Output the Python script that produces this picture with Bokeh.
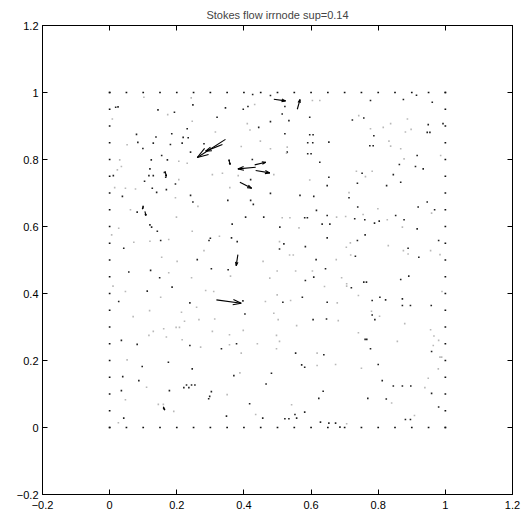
import numpy as np
from bokeh.plotting import figure
from bokeh.models import Range1d, LinearAxis, FixedTicker
from bokeh.embed import file_html
from bokeh.resources import INLINE

title_text = "Stokes flow irrnode sup=0.14"

tick_values = [-0.2, 0.0, 0.2, 0.4, 0.6, 0.8, 1.0, 1.2]
tick_labels = ["\u22120.2", "0", "0.2", "0.4", "0.6", "0.8", "1", "1.2"]

# boundary nodes (regular spacing along the square's edges)
edge_pos = [0.0, 0.05, 0.1, 0.15, 0.2, 0.25, 0.3, 0.35, 0.4, 0.45, 0.5,
            0.55, 0.6, 0.65, 0.7, 0.75, 0.8, 0.85, 0.9, 0.95, 1.0]

# interior nodes drawn dark (tiny arrows)
dark_pts = [
    (0.426,0.994),(0.479,0.991),(0.018,0.956),(0.025,0.957),(0.144,0.948),(0.193,0.941),(0.248,0.963),
    (0.345,0.954),(0.412,0.958),(0.398,0.950),(0.522,0.958),(0.514,0.936),(0.320,0.926),(0.479,0.913),
    (0.444,0.896),(0.231,0.892),(0.080,0.875),(0.138,0.867),(0.185,0.877),(0.219,0.866),(0.234,0.865),
    (0.522,0.877),(0.084,0.851),(0.130,0.849),(0.181,0.845),(0.216,0.849),(0.099,0.833),(0.281,0.847),
    (0.241,0.822),(0.529,0.822),(0.356,0.797),(0.425,0.800),(0.124,0.799),(0.155,0.812),(0.172,0.799),
    (0.120,0.772),(0.163,0.761),(0.167,0.747),(0.117,0.752),(0.130,0.752),(0.011,0.752),(0.420,0.740),
    (0.104,0.735),(0.196,0.727),(0.127,0.714),(0.140,0.702),(0.169,0.710),(0.479,0.699),(0.241,0.693),
    (0.038,0.690),(0.352,0.678),(0.420,0.678),(0.248,0.673),(0.428,0.666),(0.100,0.658),(0.107,0.636),
    (0.082,0.643),(0.405,0.628),(0.459,0.628),(0.365,0.607),(0.120,0.605),(0.125,0.598),(0.507,0.598),
    (0.777,0.976),(0.875,0.979),(0.914,0.992),(0.961,0.971),(0.534,0.916),(0.596,0.926),(0.723,0.918),
    (0.757,0.924),(0.949,0.904),(0.993,0.907),(0.596,0.874),(0.606,0.874),(0.946,0.881),(0.954,0.881),
    (0.787,0.871),(0.590,0.850),(0.605,0.850),(0.653,0.852),(0.775,0.841),(0.785,0.841),(0.590,0.817),
    (0.600,0.817),(0.916,0.812),(0.626,0.792),(0.863,0.785),(0.911,0.779),(0.934,0.772),(0.752,0.759),
    (0.653,0.747),(0.845,0.755),(0.867,0.732),(0.648,0.722),(0.738,0.729),(0.825,0.722),(0.567,0.693),
    (0.608,0.690),(0.713,0.686),(0.946,0.673),(0.616,0.648),(0.739,0.658),(0.919,0.658),(0.968,0.650),
    (0.648,0.633),(0.852,0.633),(0.581,0.626),(0.589,0.626),(0.730,0.623),(0.760,0.620),(0.789,0.610),
    (0.803,0.616),(0.877,0.620),(0.633,0.607),(0.656,0.607),(0.916,0.593),
    (0.142,0.586),(0.300,0.565),(0.296,0.558),(0.363,0.566),(0.380,0.555),(0.152,0.558),(0.042,0.535),
    (0.506,0.533),(0.261,0.501),(0.122,0.469),(0.303,0.474),(0.353,0.471),(0.057,0.464),(0.149,0.447),
    (0.186,0.419),(0.112,0.407),(0.397,0.378),(0.027,0.376),(0.239,0.372),(0.403,0.339),(0.035,0.260),
    (0.082,0.248),(0.239,0.245),(0.333,0.235),(0.378,0.250),(0.175,0.195),(0.097,0.182),(0.246,0.175),
    (0.482,0.162),(0.039,0.152),(0.370,0.155),(0.087,0.140),(0.466,0.130),(0.229,0.127),(0.244,0.127),
    (0.254,0.127),(0.221,0.119),(0.236,0.119),(0.035,0.110),(0.178,0.110),(0.303,0.107),(0.298,0.093),
    (0.295,0.086),(0.417,0.071),(0.161,0.057),(0.348,0.034),(0.456,0.028),(0.042,0.028),
    (0.761,0.575),(0.648,0.566),(0.519,0.548),(0.738,0.558),(0.980,0.558),(0.583,0.540),(0.889,0.535),
    (0.732,0.511),(0.921,0.508),(0.615,0.501),(0.643,0.474),(0.608,0.449),(0.891,0.452),(0.867,0.442),
    (0.583,0.439),(0.757,0.434),(0.765,0.434),(0.720,0.417),(0.574,0.389),(0.805,0.389),(0.822,0.381),
    (0.872,0.384),(0.516,0.374),(0.648,0.374),(0.782,0.379),(0.872,0.364),(0.896,0.364),(0.958,0.364),
    (0.782,0.336),(0.790,0.322),(0.606,0.322),(0.646,0.324),(0.761,0.263),(0.766,0.263),(0.777,0.235),
    (0.959,0.227),(0.554,0.222),(0.638,0.217),(0.572,0.187),(0.581,0.180),(0.800,0.188),(0.812,0.140),
    (0.845,0.124),(0.872,0.124),(0.897,0.124),(0.959,0.102),(0.636,0.108),(0.623,0.087),(0.769,0.087),
    (0.824,0.085),(0.980,0.061),(0.581,0.046),(0.552,0.039),(0.557,0.028),(0.522,0.026),(0.534,0.026),
    (0.881,0.024),(0.896,0.024),(0.628,0.016),(0.653,0.013),(0.673,0.013),(0.686,0.001),
]

# interior nodes drawn faint
grey_pts = [
    (0.102,0.986),(0.243,0.984),(0.008,0.921),(0.173,0.934),(0.432,0.964),(0.246,0.914),(0.410,0.907),
    (0.315,0.882),(0.418,0.888),(0.052,0.844),(0.449,0.855),(0.479,0.832),(0.392,0.839),(0.206,0.795),
    (0.231,0.789),(0.030,0.799),(0.035,0.779),(0.023,0.769),(0.306,0.755),(0.336,0.759),(0.383,0.752),
    (0.489,0.755),(0.206,0.740),(0.015,0.716),(0.047,0.714),(0.077,0.712),(0.358,0.716),(0.196,0.686),
    (0.263,0.660),(0.062,0.650),(0.199,0.628),(0.514,0.626),(0.027,0.595),
    (0.604,0.976),(0.626,0.976),(0.742,0.931),(0.887,0.921),(0.837,0.907),(0.777,0.892),(0.815,0.896),
    (0.881,0.882),(0.898,0.890),(0.529,0.837),(0.832,0.855),(0.837,0.840),(0.527,0.819),(0.867,0.832),
    (0.986,0.812),(0.877,0.802),(0.735,0.765),(0.782,0.765),(0.762,0.749),(0.596,0.739),(0.713,0.701),
    (0.799,0.653),(0.959,0.640),(0.755,0.636),(0.537,0.626),(0.676,0.628),(0.703,0.630),(0.827,0.620),
    (0.564,0.596),(0.872,0.598),
    (0.246,0.586),(0.006,0.575),(0.327,0.571),(0.506,0.555),(0.072,0.553),(0.120,0.556),(0.176,0.561),
    (0.281,0.528),(0.155,0.508),(0.201,0.496),(0.457,0.496),(0.176,0.462),(0.499,0.467),(0.244,0.447),
    (0.360,0.452),(0.477,0.446),(0.010,0.422),(0.286,0.409),(0.310,0.406),(0.047,0.406),(0.499,0.396),
    (0.152,0.389),(0.464,0.376),(0.259,0.359),(0.119,0.349),(0.214,0.344),(0.489,0.341),(0.070,0.331),
    (0.223,0.317),(0.266,0.322),(0.313,0.324),(0.502,0.322),(0.198,0.299),(0.208,0.299),(0.161,0.295),
    (0.130,0.287),(0.306,0.287),(0.357,0.277),(0.398,0.290),(0.497,0.275),(0.169,0.270),(0.117,0.275),
    (0.216,0.262),(0.271,0.240),(0.357,0.247),(0.440,0.250),(0.497,0.235),(0.506,0.257),(0.392,0.222),
    (0.052,0.202),(0.388,0.163),(0.110,0.120),(0.350,0.098),(0.047,0.083),(0.145,0.069),(0.160,0.069),
    (0.191,0.048),(0.435,0.039),(0.026,0.014),
    (0.717,0.551),(0.705,0.538),(0.830,0.543),(0.875,0.528),(0.956,0.528),(0.536,0.515),(0.547,0.515),
    (0.718,0.515),(0.889,0.518),(0.984,0.516),(0.675,0.501),(0.554,0.467),(0.604,0.467),(0.691,0.447),
    (0.706,0.429),(0.706,0.422),(0.640,0.421),(0.990,0.406),(0.741,0.394),(0.539,0.379),(0.678,0.372),
    (0.780,0.347),(0.804,0.332),(0.681,0.319),(0.557,0.304),(0.879,0.310),(0.956,0.292),(0.741,0.283),
    (0.966,0.273),(0.857,0.257),(0.980,0.260),(0.964,0.245),(0.618,0.222),(0.984,0.210),(0.989,0.210),
    (0.618,0.185),(0.673,0.188),(0.750,0.177),(0.979,0.175),(0.949,0.147),(0.939,0.119),(0.840,0.073),
    (0.542,0.068),(0.908,0.036),(0.706,0.011),
]

# visible velocity arrows: tail x, tail y, u, v
arrow_x = [0.345, 0.336, 0.435, 0.432, 0.435, 0.388, 0.489, 0.559, 0.318, 0.382, 0.355, 0.105, 0.160, 0.165, 0.100]
arrow_y = [0.860, 0.845, 0.777, 0.784, 0.767, 0.732, 0.980, 0.950, 0.381, 0.516, 0.800, 0.645, 0.062, 0.765, 0.662]
arrow_u = [-0.084, -0.050, -0.053, 0.033, 0.042, 0.035, 0.035, 0.008, 0.074, -0.005, 0.004, 0.003, 0.004, 0.004, -0.002]
arrow_v = [-0.054, -0.020, -0.005, 0.008, -0.007, -0.018, -0.005, 0.029, -0.010, -0.033, -0.015, -0.012, -0.010, -0.015, -0.010]

FONT = "Liberation Sans"

p = figure(width=532, height=517, output_backend="svg", toolbar_location=None,
           x_range=Range1d(-0.2, 1.2), y_range=Range1d(-0.2, 1.2),
           min_border_left=42, min_border_right=20, min_border_top=25, min_border_bottom=23,
           title=title_text)
p.title.align = "center"
p.title.text_font = FONT
p.title.text_font_size = "11px"
p.title.text_font_style = "normal"
p.title.standoff = 9
p.xgrid.visible = False
p.ygrid.visible = False
p.outline_line_color = "black"
p.outline_line_width = 1
p.background_fill_color = "white"
p.border_fill_color = "white"

overrides = {v: s for v, s in zip(tick_values, tick_labels)}
for ax, standoff in ((p.xaxis[0], 6), (p.yaxis[0], 4)):
    ax.ticker = FixedTicker(ticks=tick_values)
    ax.major_label_overrides = overrides
    ax.major_tick_in = 5
    ax.major_tick_out = 0
    ax.minor_tick_line_color = None
    ax.axis_line_color = "black"
    ax.major_tick_line_color = "black"
    ax.major_label_text_font = FONT
    ax.major_label_text_font_size = "11px"
    ax.major_label_text_color = "black"
    ax.major_label_standoff = standoff

for side in ("above", "right"):
    a = LinearAxis(ticker=FixedTicker(ticks=tick_values))
    a.major_tick_in = 5
    a.major_tick_out = 0
    a.minor_tick_line_color = None
    a.major_label_text_font_size = "0px"
    a.major_label_text_color = None
    a.major_label_standoff = 0
    a.axis_line_color = "black"
    p.add_layout(a, side)

# boundary nodes
bx, by = [], []
for t in edge_pos:
    bx += [t, t, 0.0, 1.0]
    by += [0.0, 1.0, t, t]
p.scatter(bx, by, marker="square", size=1.7, fill_color="#111111", line_color=None)

p.scatter([q[0] for q in dark_pts], [q[1] for q in dark_pts], marker="square", size=1.6,
          fill_color="#222222", line_color=None)
p.scatter([q[0] for q in grey_pts], [q[1] for q in grey_pts], marker="square", size=1.6,
          fill_color="#b8b8b8", line_color=None)

# quiver arrows (MATLAB-style heads)
ax_ = np.array(arrow_x); ay_ = np.array(arrow_y)
au = np.array(arrow_u); av = np.array(arrow_v)
tx, ty = ax_ + au, ay_ + av
alpha, beta = 0.33, 0.33
h1x = tx - alpha * (au + beta * av)
h1y = ty - alpha * (av - beta * au)
h2x = tx - alpha * (au - beta * av)
h2y = ty - alpha * (av + beta * au)
p.segment(ax_, ay_, tx, ty, line_color="black", line_width=1.1)
p.segment(h1x, h1y, tx, ty, line_color="black", line_width=1.1)
p.segment(h2x, h2y, tx, ty, line_color="black", line_width=1.1)

open("out.html", "w").write(file_html(p, INLINE))
